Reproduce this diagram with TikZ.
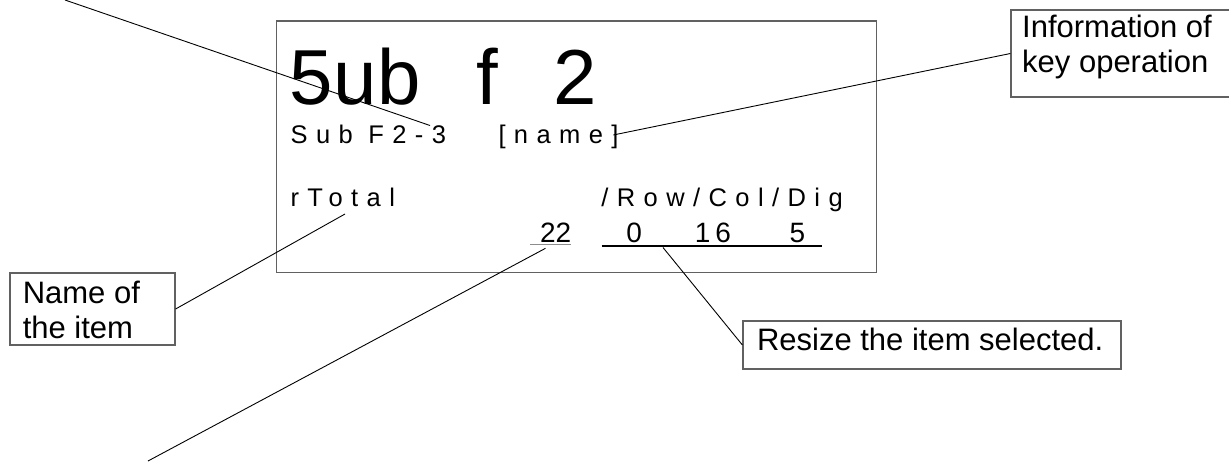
\documentclass[tikz,border=0pt]{standalone}
\usepackage{fontspec}
\setmainfont{Liberation Sans}
\newfontfamily\plainfam{Liberation Sans}
\newfontfamily\lcdfam{Liberation Sans}[LetterSpace=33]
\newfontfamily\digspaced{Liberation Sans}[LetterSpace=18]
\newcommand\lcdfontsmall{\lcdfam\fontsize{25.5}{28}\selectfont}
\newcommand\lcdfontbig{\plainfam\fontsize{78}{80}\selectfont}
\newcommand\digfont{\plainfam\fontsize{28}{30}\selectfont}
\newcommand\digfontsp{\digspaced\fontsize{28}{30}\selectfont}
\newcommand\callfont{\plainfam\fontsize{31}{35.4}\selectfont}
\newlength\lcdcellw
\def\cellsloop#1{\ifx\relax#1\else\makebox[\lcdcellw][c]{#1}\expandafter\cellsloop\fi}
\newcommand\cellsrow[2]{\setlength\lcdcellw{#1}\cellsloop#2\relax}
\definecolor{framegray}{gray}{0.38}
\definecolor{ulgray}{gray}{0.55}
\tikzset{
  conn/.style={draw=black, line width=0.9pt},
  framebox/.style={draw=framegray, line width=1.3pt, inner sep=0pt},
  callout/.style={draw=framegray, line width=1.2pt, inner sep=0pt},
  lcdbig/.style={font=\lcdfontbig, inner sep=0pt},
  lcd/.style={font=\lcdfontsmall, inner sep=0pt},
  digits/.style={font=\digfont, inner sep=0pt},
  digitssp/.style={font=\digfontsp, inner sep=0pt},
  calltext/.style={font=\callfont, inner sep=0pt, align=left},
  ulblack/.style={draw=black, line width=2.2pt},
  ulgrey/.style={draw=ulgray, line width=1.7pt},
}
\begin{document}
\begin{tikzpicture}[x=1pt,y=-1pt]
\useasboundingbox (0,0) rectangle (1229,461);
% display frame
\node[framebox, minimum width=599.8pt, minimum height=251.7pt] (screen) at (576.6,146.85) {};
% display texts
\node[lcdbig, anchor=base west] (big) at (289,104) {\cellsrow{44pt}{5ub~f~2}};
\node[lcd, anchor=base west] (sub) at (290.5,143.3) {Sub F2-3};
\node[lcd, anchor=base west] (nm) at (498.3,143.3) {[name]};
\node[lcd, anchor=base west] (rt) at (290.3,206.7) {rTotal};
\node[lcd, anchor=base west] (rcd) at (601.2,206.7) {/Row/Col/Dig};
\node[digits, anchor=base east] (n22) at (571.5,242) {22};
\node[digits, anchor=base] (n0) at (634.2,242) {0};
\node[digitssp, anchor=base] (n16) at (713,242) {16};
\node[digits, anchor=base] (n5) at (797.5,242) {5};
% underlines
\coordinate (u22a) at (530,244.5);
\coordinate (u22b) at (571,244.5);
\coordinate (urca) at (601.7,245.7);
\coordinate (urcb) at (821.7,245.7);
\draw[ulgrey] (u22a) -- (u22b);
\draw[ulblack] (urca) -- (urcb);
% callout boxes
\node[callout, minimum width=165pt, minimum height=72pt] (namebox) at (92.5,309) {};
\node[calltext, anchor=north west] (nametext) at (22.6,280.8) {Name of\\the item};
\node[callout, minimum width=229pt, minimum height=87pt] (infobox) at (1125.5,53.5) {};
\node[calltext, anchor=north west] (infotext) at (1022,14.6) {Information of\\key operation};
\node[callout, minimum width=378pt, minimum height=48pt] (resizebox) at (932,345) {};
\node[calltext, anchor=base west] (resizetext) at (756.8,350.7) {Resize the item selected.};
% connector ends
\coordinate (topfree) at (65,0);
\coordinate (subtip) at (430,125.5);
\coordinate (nmtip) at (613.3,135);
\coordinate (rttip) at (345,214);
\coordinate (tip22) at (545.5,248.3);
\coordinate (free22) at (148,461);
\coordinate (tiprc) at (663,247.5);
% connectors
\draw[conn] (topfree) -- (subtip);
\draw[conn] (nmtip) -- (infobox.west);
\draw[conn] (rttip) -- (namebox.east);
\draw[conn] (tip22) -- (free22);
\draw[conn] (tiprc) -- (resizebox.west);
\end{tikzpicture}
\end{document}
